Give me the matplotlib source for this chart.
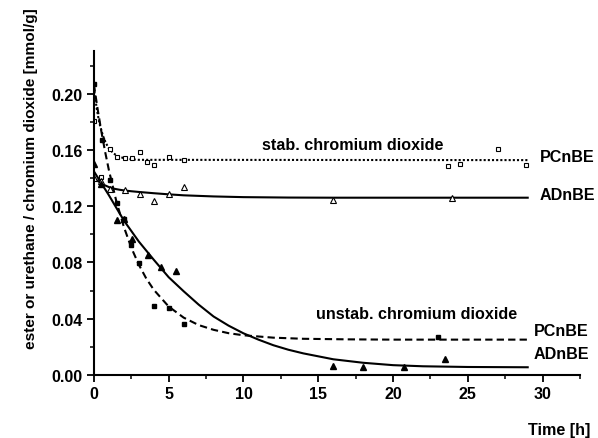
import numpy as np
import matplotlib
matplotlib.use("Agg")
import matplotlib.pyplot as plt
from matplotlib.ticker import MultipleLocator, FormatStrFormatter

plt.rcParams['font.family'] = ['Liberation Sans', 'DejaVu Sans']
plt.rcParams['font.weight'] = 'bold'

# ---- measured points ----
# stabilised chromium dioxide, PCnBE (open squares)
stab_pc_x = [0, 0.5, 1.1, 1.55, 2.05, 2.55, 3.05, 3.55, 4.05, 5.05, 6.0, 23.7, 24.5, 27.0, 28.9]
stab_pc_y = [0.181, 0.141, 0.161, 0.155, 0.1546, 0.1546, 0.159, 0.152, 0.1496, 0.155, 0.153,
             0.1486, 0.150, 0.1607, 0.1498]
# stabilised chromium dioxide, ADnBE (open triangles)
stab_ad_x = [0, 0.45, 1.05, 2.05, 3.05, 4.05, 5.05, 6.05, 16.0, 23.95]
stab_ad_y = [0.140, 0.138, 0.1326, 0.132, 0.129, 0.1236, 0.129, 0.1338, 0.1243, 0.126]
# unstabilised chromium dioxide, PCnBE (filled squares)
unstab_pc_x = [0, 0.55, 1.1, 1.55, 2.0, 2.5, 3.0, 4.0, 5.0, 6.05, 23.0]
unstab_pc_y = [0.207, 0.167, 0.139, 0.1226, 0.1107, 0.0926, 0.0798, 0.0488, 0.0479, 0.0364, 0.0267]
# unstabilised chromium dioxide, ADnBE (filled triangles)
unstab_ad_x = [0, 0.5, 1.55, 2.0, 2.55, 3.6, 4.5, 5.5, 16.0, 18.0, 20.7, 23.5]
unstab_ad_y = [0.150, 0.136, 0.110, 0.1107, 0.097, 0.085, 0.0765, 0.0738, 0.0064, 0.0057, 0.0053, 0.0112]

# ---- fitted curves ----
fit_stab_pc_x = [0, 0.1, 0.2, 0.3, 0.4, 0.6, 0.8, 1.0, 1.3, 1.6, 2.0, 2.5, 3.0, 29.0]
fit_stab_pc_y = [0.205, 0.1964, 0.1891, 0.1832, 0.1781, 0.1705, 0.1652, 0.1614, 0.1579, 0.1558,
                 0.1544, 0.1536, 0.1532, 0.1530]
fit_stab_ad_x = [0, 0.35, 0.7, 1.0, 1.3, 1.7, 2.0, 2.5, 3.0, 4.0, 5.0, 6.0, 8.0, 10.0, 13.0, 16.0, 20.0, 29.0]
fit_stab_ad_y = [0.140, 0.1375, 0.1352, 0.1338, 0.1327, 0.1319, 0.1314, 0.1308, 0.1303, 0.1294,
                 0.1286, 0.1279, 0.1271, 0.1266, 0.1263, 0.1262, 0.1262, 0.1262]
fit_unstab_pc_x = [0, 0.25, 0.5, 0.75, 1.0, 1.5, 2.0, 2.5, 3.0, 3.5, 4.0, 5.0, 6.0, 7.0, 8.0, 9.0,
                   10.0, 12.0, 14.0, 17.0, 20.0, 29.0]
fit_unstab_pc_y = [0.207, 0.1894, 0.1734, 0.159, 0.146, 0.1237, 0.1055, 0.0906, 0.0785, 0.0686,
                   0.0606, 0.0486, 0.0407, 0.0354, 0.032, 0.0296, 0.0281, 0.0264, 0.0256, 0.0252,
                   0.0250, 0.0250]
fit_unstab_ad_x = [0, 1, 2, 3, 4, 5, 6, 7, 8, 9, 10, 11, 12, 13, 14, 16, 18, 20, 22, 25, 29]
fit_unstab_ad_y = [0.145, 0.128, 0.110, 0.095, 0.082, 0.0695, 0.0595, 0.050, 0.0415, 0.035, 0.0295,
                   0.025, 0.021, 0.0178, 0.0152, 0.011, 0.0085, 0.0068, 0.006, 0.0055, 0.0053]

fig = plt.figure(figsize=(5.98, 4.39), dpi=100)
ax = fig.add_axes([0.157, 0.1442, 0.813, 0.738])

lw = 1.5
ax.plot(fit_stab_pc_x, fit_stab_pc_y, color="black", lw=lw, linestyle=(0, (1, 1)))
ax.plot(fit_stab_ad_x, fit_stab_ad_y, color="black", lw=lw, linestyle="-")
ax.plot(fit_unstab_pc_x, fit_unstab_pc_y, color="black", lw=lw, linestyle=(0, (3.5, 2)))
ax.plot(fit_unstab_ad_x, fit_unstab_ad_y, color="black", lw=lw, linestyle="-")

ms = 3.4
ax.plot(stab_pc_x, stab_pc_y, "s", ms=ms, mfc="white", mec="black", mew=0.8, linestyle="none")
ax.plot(stab_ad_x, stab_ad_y, "^", ms=ms + 0.5, mfc="white", mec="black", mew=0.8, linestyle="none")
ax.plot(unstab_pc_x, unstab_pc_y, "s", ms=ms, mfc="black", mec="black", linestyle="none")
ax.plot(unstab_ad_x, unstab_ad_y, "^", ms=ms + 0.5, mfc="black", mec="black", linestyle="none")

fs = 11.6
ax.text(17.3, 0.164, "stab. chromium dioxide", ha="center", va="center", fontsize=fs, fontweight="bold")
ax.text(29.8, 0.1557, "PCnBE", ha="left", va="center", fontsize=fs, fontweight="bold")
ax.text(29.8, 0.1284, "ADnBE", ha="left", va="center", fontsize=fs, fontweight="bold")
ax.text(21.6, 0.0434, "unstab. chromium dioxide", ha="center", va="center", fontsize=fs, fontweight="bold")
ax.text(29.4, 0.0314, "PCnBE", ha="left", va="center", fontsize=fs, fontweight="bold")
ax.text(29.4, 0.0148, "ADnBE", ha="left", va="center", fontsize=fs, fontweight="bold")

ax.set_xlim(0, 32.5)
ax.set_ylim(0, 0.231)
ax.xaxis.set_major_locator(MultipleLocator(5))
ax.xaxis.set_minor_locator(MultipleLocator(2.5))
ax.yaxis.set_major_locator(MultipleLocator(0.04))
ax.yaxis.set_minor_locator(MultipleLocator(0.02))
ax.yaxis.set_major_formatter(FormatStrFormatter("%.2f"))

for s in ["top", "right"]:
    ax.spines[s].set_visible(False)
for s in ["left", "bottom"]:
    ax.spines[s].set_linewidth(1.5)
ax.tick_params(which="major", direction="out", length=5, width=1.3, labelsize=fs, pad=3)
ax.tick_params(which="minor", direction="out", length=3, width=1.1)
for lab in ax.get_xticklabels() + ax.get_yticklabels():
    lab.set_fontweight("bold")

fig.text(0.052, 0.592, "ester or urethane / chromium dioxide [mmol/g]", rotation=90,
         ha="center", va="center", fontsize=11.1, fontweight="bold")
fig.text(0.987, 0.019, "Time [h]", ha="right", va="center", fontsize=fs, fontweight="bold")

fig.savefig("out.png", dpi=100)
